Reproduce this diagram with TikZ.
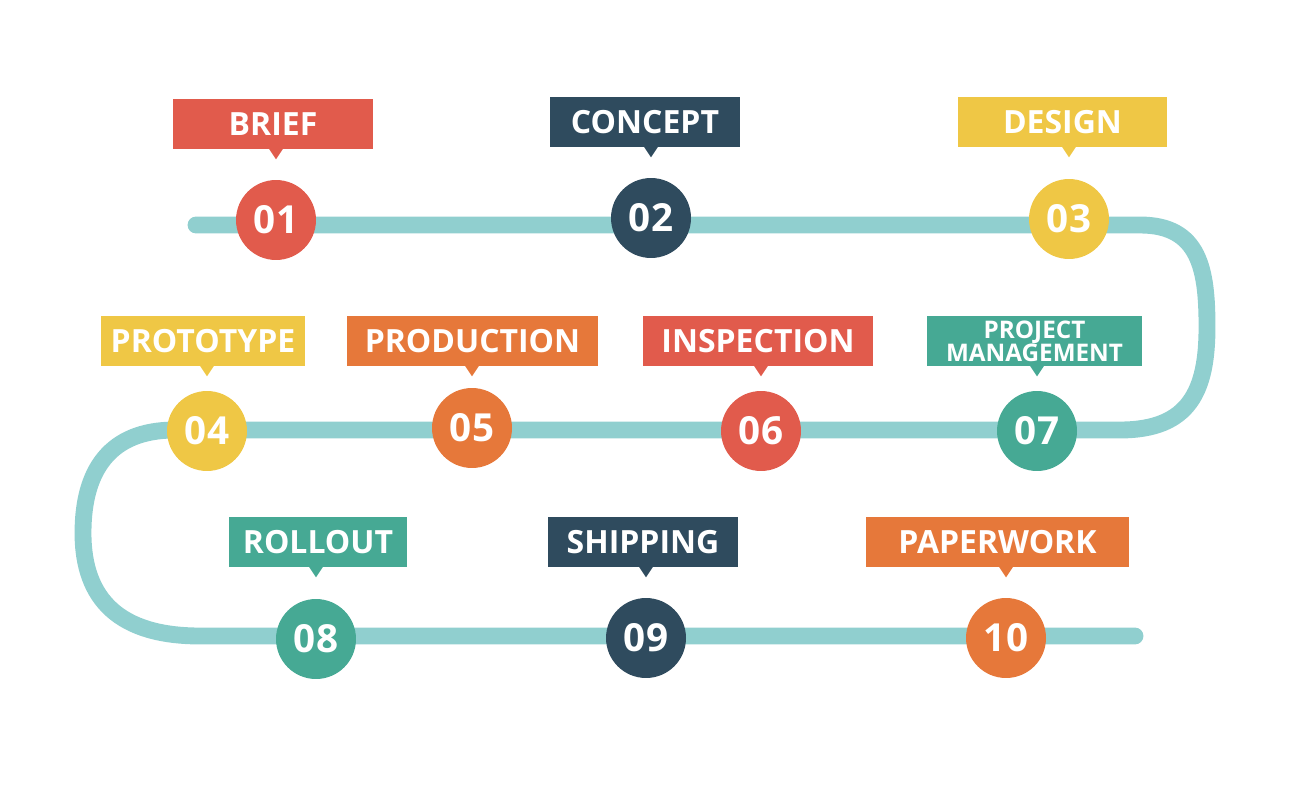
\documentclass[tikz,border=0pt]{standalone}
\usepackage{fontspec}
\setmainfont{Open Sans}
\definecolor{stepred}{HTML}{E15B4C}
\definecolor{stepnavy}{HTML}{2F4B5E}
\definecolor{stepyellow}{HTML}{EFC745}
\definecolor{steporange}{HTML}{E6783A}
\definecolor{stepteal}{HTML}{46A994}
\definecolor{trackblue}{HTML}{90CFCF}
\tikzset{
  stepdot/.style={circle, fill=#1, minimum size=1.6cm, inner sep=0pt,
    text=white, font=\bfseries\fontsize{22}{22}\selectfont},
  steptag/.style={fill=#1, minimum height=1cm, inner sep=0pt,
    text=white, font=\bfseries\fontsize{18.2}{19}\selectfont},
  track/.style={trackblue, line width=9.6pt, line cap=round}
}
\newcommand\tagtip[3]{\fill[#3] (#2 |- #1.south) ++(-7,-0.5) -- ++(14,0) -- ++(-7,10.5) -- cycle;}
\begin{document}
\begin{tikzpicture}[x=0.02cm, y=-0.02cm]
  \useasboundingbox (0,0) rectangle (1300,800);
  % track
  \coordinate (t0) at (196,225);
  \coordinate (t1) at (1140,225);
  \coordinate (t2) at (1207,327);
  \coordinate (t3) at (1120,430);
  \coordinate (t4) at (175,430);
  \coordinate (t5) at (83,533);
  \coordinate (t6) at (200,636);
  \coordinate (t7) at (1135,636);
  \draw[track] (t0) -- (t1) .. controls (1200,225) and (1207,270) .. (t2)
    .. controls (1207,390) and (1190,430) .. (t3) -- (t4)
    .. controls (110,430) and (83,470) .. (t5)
    .. controls (83,600) and (120,636) .. (t6) -- (t7);
  % circles
  \path
    (276,220) node[stepdot=stepred] (c1) {01}
    (651,218) node[stepdot=stepnavy] (c2) {02}
    (1069,219) node[stepdot=stepyellow] (c3) {03}
    (207,431) node[stepdot=stepyellow] (c4) {04}
    (472,428) node[stepdot=steporange] (c5) {05}
    (761,431) node[stepdot=stepred] (c6) {06}
    (1037,431) node[stepdot=stepteal] (c7) {07}
    (316,639) node[stepdot=stepteal] (c8) {08}
    (646,638) node[stepdot=stepnavy] (c9) {09}
    (1006,638) node[stepdot=steporange] (c10) {10};
  % tags
  \path
    (273,124) node[steptag=stepred, minimum width=4cm] (l1) {BRIEF}
    (645,122) node[steptag=stepnavy, minimum width=3.8cm] (l2) {CONCEPT}
    (1062.5,122) node[steptag=stepyellow, minimum width=4.18cm] (l3) {DESIGN}
    (203,341) node[steptag=stepyellow, minimum width=4.08cm] (l4) {PROTOTYPE}
    (472.5,341) node[steptag=steporange, minimum width=5.02cm] (l5) {PRODUCTION}
    (758,341) node[steptag=stepred, minimum width=4.6cm] (l6) {INSPECTION}
    (1034.5,341) node[steptag=stepteal, minimum width=4.3cm, align=center,
      font=\bfseries\fontsize{13.8}{13.2}\selectfont] (l7) {PROJECT\\MANAGEMENT}
    (318,542) node[steptag=stepteal, minimum width=3.56cm] (l8) {ROLLOUT}
    (643,542) node[steptag=stepnavy, minimum width=3.8cm] (l9) {SHIPPING}
    (997.5,542) node[steptag=steporange, minimum width=5.26cm] (l10) {PAPERWORK};
  \tagtip{l1}{c1}{stepred}
  \tagtip{l2}{c2}{stepnavy}
  \tagtip{l3}{c3}{stepyellow}
  \tagtip{l4}{c4}{stepyellow}
  \tagtip{l5}{c5}{steporange}
  \tagtip{l6}{c6}{stepred}
  \tagtip{l7}{c7}{stepteal}
  \tagtip{l8}{c8}{stepteal}
  \tagtip{l9}{c9}{stepnavy}
  \tagtip{l10}{c10}{steporange}
\end{tikzpicture}
\end{document}
